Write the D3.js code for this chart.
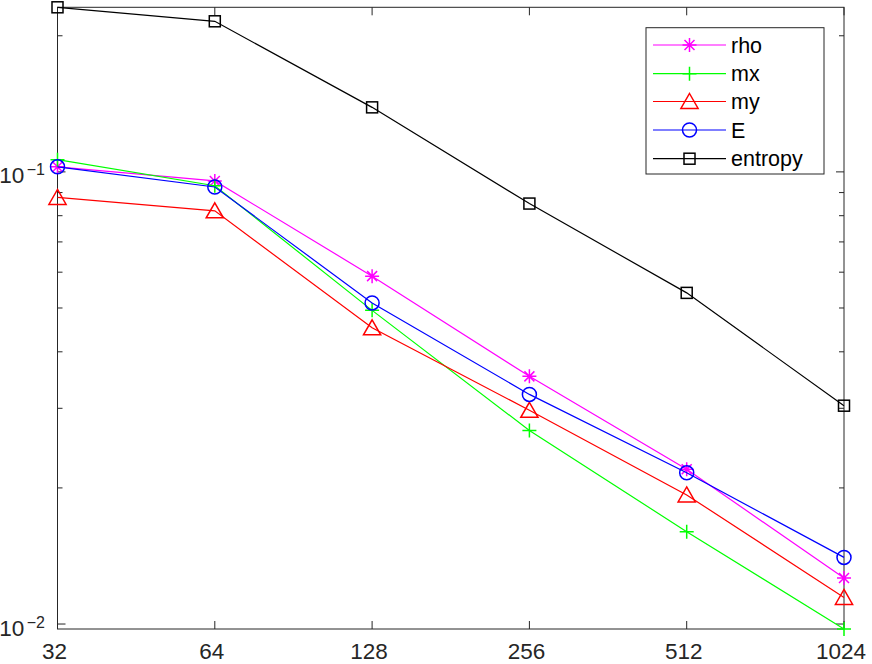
<!DOCTYPE html>
<html>
<head>
<meta charset="utf-8">
<script src="https://cdn.jsdelivr.net/npm/d3@7"></script>
<style>
  html, body { margin: 0; padding: 0; background: #fff; }
  svg { display: block; font-family: "Liberation Sans", Arial, Helvetica, sans-serif; }
</style>
</head>
<body>
<svg id="chart" width="872" height="664"></svg>
<script>
// ---- data ----
const gridSizes = [32, 64, 128, 256, 512, 1024];
const xTickLabels = ["32", "64", "128", "256", "512", "1024"];
const rho     = [0.1026, 0.0955, 0.0588, 0.0353, 0.0220, 0.01264];
const mx      = [0.1064, 0.0932, 0.0494, 0.0268, 0.0160, 0.00975];
const my      = [0.0878, 0.0820, 0.0452, 0.0297, 0.0193, 0.01145];
const E       = [0.1026, 0.0926, 0.0513, 0.0322, 0.0216, 0.01404];
const entropy = [0.2312, 0.2153, 0.1389, 0.0851, 0.0540, 0.0304];
const seriesNames = ["rho", "mx", "my", "E", "entropy"];
const yMajorExponents = [-2, -1];

(function () {
// ---- styling ----
const seriesDefs = [
  { name: seriesNames[0], values: rho,     color: "#ff00ff", marker: "star" },
  { name: seriesNames[1], values: mx,      color: "#00ff00", marker: "plus" },
  { name: seriesNames[2], values: my,      color: "#ff0000", marker: "triangle" },
  { name: seriesNames[3], values: E,       color: "#0000ff", marker: "circle" },
  { name: seriesNames[4], values: entropy, color: "#000000", marker: "square" }
];

const W = 872, H = 664;
const pLeft = 57.5, pRight = 844, pTop = 7.3, pBottom = 629;
const axisColor = "#262626";
const tickFont = 22.5, supFont = 16, legendFont = 21.5;

const svg = d3.select("#chart");
svg.append("rect").attr("width", W).attr("height", H).attr("fill", "#fff");

const x = d3.scaleLog().base(2).domain(d3.extent(gridSizes)).range([pLeft, pRight]);
const allVals = seriesDefs.flatMap(s => s.values);
const y = d3.scaleLog().domain(d3.extent(allVals)).range([pBottom, pTop]);

// axes box
const g = svg.append("g");
g.append("rect")
  .attr("x", pLeft).attr("y", pTop)
  .attr("width", pRight - pLeft).attr("height", pBottom - pTop)
  .attr("fill", "none").attr("stroke", axisColor).attr("stroke-width", 1);

// x ticks (bottom & top, inward)
const majorLen = 8, minorLen = 5;
gridSizes.forEach((v, i) => {
  const px = x(v);
  g.append("line").attr("x1", px).attr("x2", px).attr("y1", pBottom).attr("y2", pBottom - majorLen)
    .attr("stroke", axisColor).attr("stroke-width", 1);
  g.append("line").attr("x1", px).attr("x2", px).attr("y1", pTop).attr("y2", pTop + majorLen)
    .attr("stroke", axisColor).attr("stroke-width", 1);
  const t = g.append("text").attr("x", px - 3).attr("y", 659)
    .attr("text-anchor", "middle").attr("font-size", tickFont).attr("fill", axisColor)
    .text(xTickLabels[i]);
  // keep label inside the figure with a small margin
  const w = t.node().getComputedTextLength();
  const rightEdge = px - 3 + w / 2;
  if (rightEdge > 866) t.attr("x", 866 - w / 2);
});

// y ticks
const yTicks = y.ticks();
yTicks.forEach(v => {
  const lgv = Math.log10(v);
  const isMajor = Math.abs(lgv - Math.round(lgv)) < 1e-9;
  const len = isMajor ? majorLen : minorLen;
  const py = y(v);
  g.append("line").attr("x1", pLeft).attr("x2", pLeft + len).attr("y1", py).attr("y2", py)
    .attr("stroke", axisColor).attr("stroke-width", 1);
  g.append("line").attr("x1", pRight).attr("x2", pRight - len).attr("y1", py).attr("y2", py)
    .attr("stroke", axisColor).attr("stroke-width", 1);
});
yMajorExponents.forEach(e => {
  const py = y(Math.pow(10, e));
  const t = g.append("text").attr("x", 45).attr("y", py + 11.5)
    .attr("text-anchor", "end").attr("font-size", tickFont).attr("fill", axisColor);
  t.append("tspan").text("10");
  t.append("tspan").attr("font-size", supFont).attr("dx", 2.5).attr("dy", -8)
    .text("\u2212" + Math.abs(e));
});

// marker drawing
function drawMarker(sel, type, cx, cy, color) {
  const sw = 1.5;
  if (type === "circle") {
    sel.append("circle").attr("cx", cx).attr("cy", cy).attr("r", 7)
      .attr("fill", "none").attr("stroke", color).attr("stroke-width", sw);
  } else if (type === "square") {
    sel.append("rect").attr("x", cx - 5.5).attr("y", cy - 5.5).attr("width", 11).attr("height", 11)
      .attr("fill", "none").attr("stroke", color).attr("stroke-width", sw);
  } else if (type === "triangle") {
    sel.append("path")
      .attr("d", `M${cx},${cy - 8}L${cx + 8.6},${cy + 7}L${cx - 8.6},${cy + 7}Z`)
      .attr("fill", "none").attr("stroke", color).attr("stroke-width", sw);
  } else if (type === "plus") {
    sel.append("path")
      .attr("d", `M${cx - 7},${cy}H${cx + 7}M${cx},${cy - 7}V${cy + 7}`)
      .attr("fill", "none").attr("stroke", color).attr("stroke-width", sw);
  } else if (type === "star") {
    const d = 5;
    sel.append("path")
      .attr("d", `M${cx - 7},${cy}H${cx + 7}M${cx},${cy - 7}V${cy + 7}` +
                 `M${cx - d},${cy - d}L${cx + d},${cy + d}M${cx - d},${cy + d}L${cx + d},${cy - d}`)
      .attr("fill", "none").attr("stroke", color).attr("stroke-width", sw);
  }
}

// series
const line = d3.line().x((d, i) => x(gridSizes[i])).y(d => y(d));
seriesDefs.forEach(s => {
  const sg = svg.append("g");
  sg.append("path").attr("d", line(s.values))
    .attr("fill", "none").attr("stroke", s.color).attr("stroke-width", 1.2);
  s.values.forEach((v, i) => drawMarker(sg, s.marker, x(gridSizes[i]), y(v), s.color));
});

// legend
const lg = svg.append("g");
const lx0 = 646, ly0 = 27.7, lw = 178, lh = 146.3;
lg.append("rect").attr("x", lx0).attr("y", ly0).attr("width", lw).attr("height", lh)
  .attr("fill", "#fff").attr("stroke", axisColor).attr("stroke-width", 1);
const rowY = [45, 73.7, 101.5, 130, 158.7];
seriesDefs.forEach((s, i) => {
  const ry = rowY[i];
  lg.append("line").attr("x1", 653).attr("x2", 726).attr("y1", ry).attr("y2", ry)
    .attr("stroke", s.color).attr("stroke-width", 1.2);
  drawMarker(lg, s.marker, 689.5, ry, s.color);
  lg.append("text").attr("x", 731).attr("y", ry + 7.5)
    .attr("font-size", legendFont).attr("fill", "#000").text(s.name);
});
})();
</script>
</body>
</html>
